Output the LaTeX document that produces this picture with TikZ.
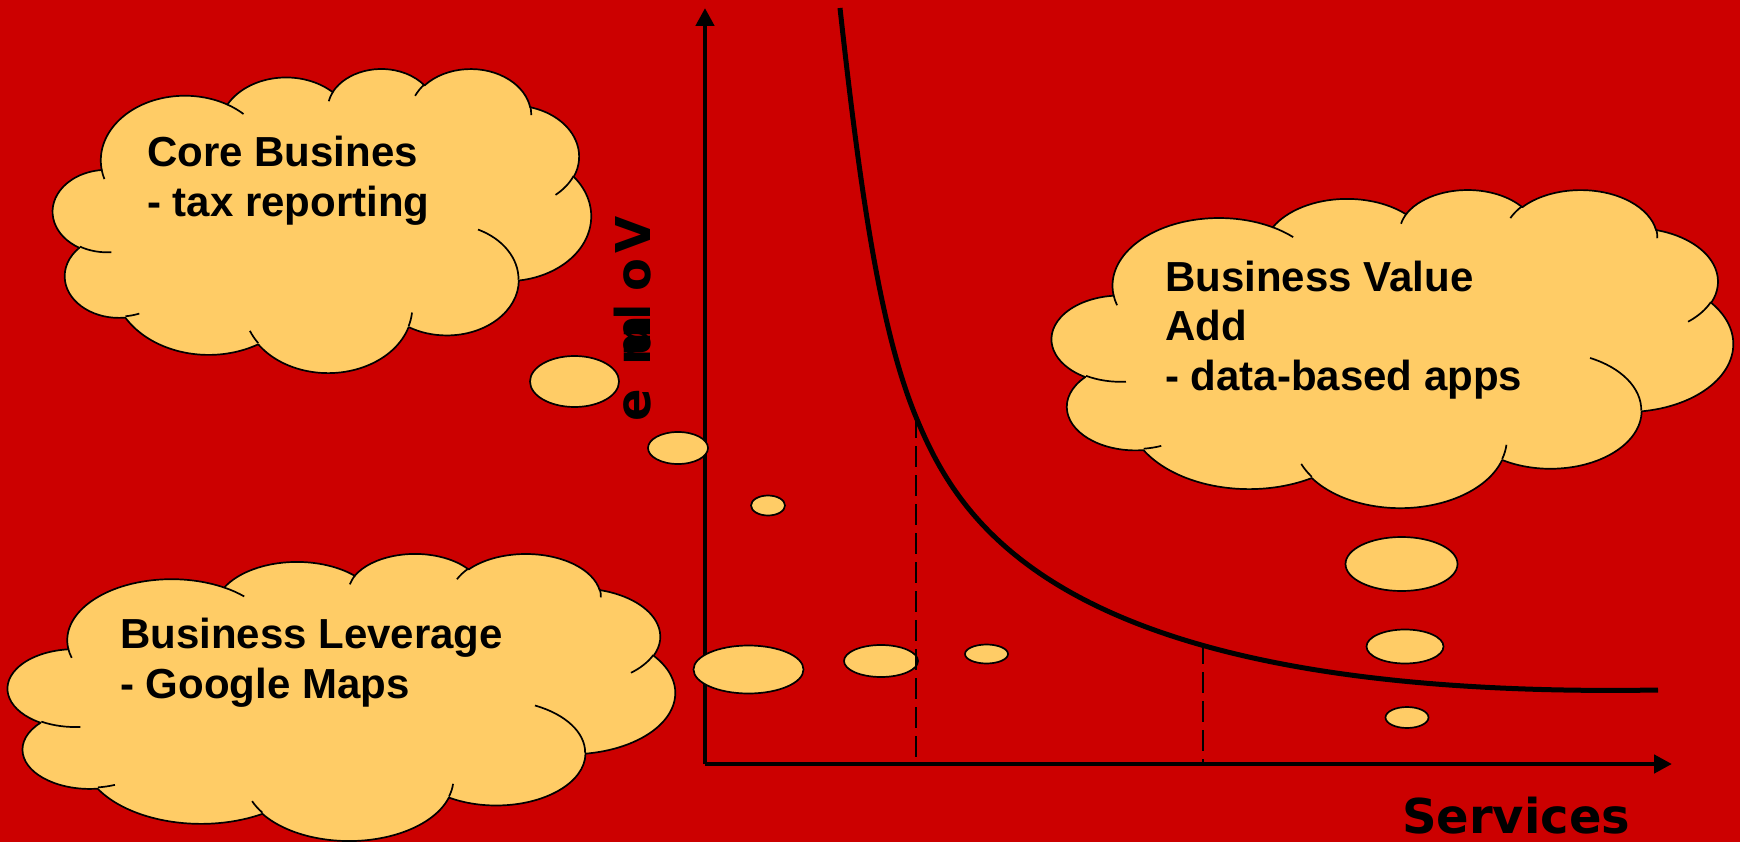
\documentclass[tikz,border=0pt]{standalone}
\usepackage{fontspec}
\usetikzlibrary{arrows.meta,shapes.geometric}
\newfontfamily\cloudfont{Liberation Sans}
\newfontfamily\labelfont{DejaVu Sans}
\definecolor{bgred}{RGB}{204,0,0}
\definecolor{cloudc}{RGB}{255,204,102}

% PowerPoint cloud arcs: wR hR stAng swAng (geometric angles, y down)
\newcommand\defcldarc[5]{%
  \pgfmathsetmacro\cldtA{atan2((#2)*sin(#4),(#3)*cos(#4))}%
  \pgfmathsetmacro\cldtB{atan2((#2)*sin((#4)+(#5)),(#3)*cos((#4)+(#5)))}%
  \pgfmathsetmacro\cldtD{mod(\cldtB-(\cldtA)+720,360)}%
  \expandafter\xdef\csname #1\endcsname{arc[x radius=#2pt, y radius=#3pt, start angle=\cldtA, delta angle=\cldtD]}%
}
\defcldarc{clA}{6.753}{9.19}{-190.48748}{123.78053}
\defcldarc{clB}{5.333}{7.267}{-144.10238}{89.94523}
\defcldarc{clC}{4.365}{5.945}{-145.80792}{99.72302}
\defcldarc{clD}{4.857}{6.595}{-130.98607}{117.24173}
\defcldarc{clE}{5.333}{7.273}{-78.70888}{109.02692}
\defcldarc{clF}{6.775}{9.22}{-46.26725}{130.269}
\defcldarc{clG}{5.785}{7.867}{0.62502}{114.03333}
\defcldarc{clH}{6.752}{9.215}{22.4516}{115.17255}
\defcldarc{clI}{7.72}{10.543}{66.24263}{75.71102}
\defcldarc{clJ}{4.36}{5.918}{-274.94208}{146.73557}
\defcldarc{clK}{4.345}{5.945}{-246.8285}{152.51885}
\defcldarc{crA}{4.345}{5.945}{86.742}{26.4295}
\defcldarc{crB}{4.36}{5.918}{73.61047}{11.44747}
\defcldarc{crC}{6.752}{9.215}{137.62415}{14.0811}
\defcldarc{crD}{6.752}{9.215}{6.45327}{15.99835}
\defcldarc{crE}{5.785}{7.867}{-70.29235}{70.91737}
\defcldarc{crF}{5.333}{7.273}{30.31803}{27.7515}
\defcldarc{crG}{4.857}{6.595}{-13.74433}{14.8589}
\defcldarc{crH}{4.857}{6.595}{-149.18145}{18.19537}
\defcldarc{crI}{4.365}{5.945}{-163.49427}{17.68635}
\defcldarc{crJ}{6.753}{9.19}{-66.70695}{12.31935}
\defcldarc{crK}{6.753}{9.19}{157.65435}{11.85817}

\newcommand\pptcloud[4]{%
  \begin{scope}[shift={(#1,#2)}, xscale=#3/43.2, yscale=#4/43.2]
    \filldraw[cloudline, fill=cloudc] (3.9,14.37) \clA\clB\clC\clD\clE\clF\clG\clH\clI\clJ\clK -- cycle;
    \draw[cloudline] (4.693,26.177) \crA (6.928,34.899) \crB (16.478,39.09) \crC
      (28.827,34.751) \crD (34.129,22.954) \crE (41.798,15.354) \crF
      (38.324,5.426) \crG (29.078,3.952) \crH (22.141,4.72) \crI
      (14,5.192) \crJ (4.127,15.789) \crK;
  \end{scope}}

\begin{document}
\begin{tikzpicture}[x=1pt, y=1pt, yscale=-1,
  cloudline/.style={draw=black, line width=1.7pt, line join=round},
  bubble/.style={ellipse, draw=black, line width=1.7pt, fill=cloudc, inner sep=0pt},
  axisline/.style={line width=4.8pt, -{Triangle[length=18pt, width=18pt]}},
  curveline/.style={line width=5pt},
  guide/.style={line width=2.4pt, dash pattern=on 21pt off 8pt},
  cloudtext/.style={anchor=base west, inner sep=0pt, font=\cloudfont\bfseries\fontsize{42}{50}\selectfont},
  vollet/.style={rotate=90, anchor=base, inner sep=0pt, font=\labelfont\bfseries\fontsize{48}{56}\selectfont},
  axislabel/.style={anchor=base west, inner sep=0pt, text depth=0pt, font=\labelfont\bfseries\fontsize{48}{56}\selectfont}]

\fill[bgred] (0,0) rectangle (1740,842);
\useasboundingbox (0,0) rectangle (1740,842);

% clouds
\pptcloud{53}{68}{538}{304}
\pptcloud{1052}{189}{681}{318}
\pptcloud{8}{553}{667}{287}

\node[cloudtext] (core) at (147,167) {\begin{tabular}[t]{@{}l@{}}Core Busines\\- tax reporting\end{tabular}};
\node[cloudtext] (value) at (1165,291) {\begin{tabular}[t]{@{}l@{}}Business Value\\Add\\- data-based apps\end{tabular}};
\node[cloudtext] (leverage) at (120,648) {\begin{tabular}[t]{@{}l@{}}Business Leverage\\- Google Maps\end{tabular}};

% axes
\coordinate (orig) at (705,764);
\coordinate (ytip) at (705,8);
\coordinate (xtip) at (1672,764);
\draw[axisline] (orig) -- (ytip);
\draw[axisline] (orig) -- (xtip);

% thought bubbles
\node[bubble, minimum width=89pt, minimum height=51pt] (b1) at (574.5,381.5) {};
\node[bubble, minimum width=60pt, minimum height=32pt] (b2) at (678,448) {};
\node[bubble, minimum width=34pt, minimum height=20pt] (b3) at (768,505.5) {};
\node[bubble, minimum width=110pt, minimum height=48pt] (b4) at (748.5,669.5) {};
\node[bubble, minimum width=74pt, minimum height=32pt] (b5) at (881,661) {};
\node[bubble, minimum width=43pt, minimum height=19pt] (b6) at (986.5,654) {};
\node[bubble, minimum width=112pt, minimum height=54pt] (b7) at (1401.5,564) {};
\node[bubble, minimum width=77pt, minimum height=34pt] (b8) at (1405,646.5) {};
\node[bubble, minimum width=43pt, minimum height=21pt] (b9) at (1407,717.5) {};

% dashed guides
\coordinate (d1top) at (916,417);
\coordinate (d1bot) at (916,762);
\coordinate (d2top) at (1203,643);
\coordinate (d2bot) at (1203,762);
\draw[guide] (d1top) -- (d1bot);
\draw[guide] (d2top) -- (d2bot);

% demand curve
\coordinate (ctop) at (840,8);
\coordinate (cend) at (1658,690);
\draw[curveline] (ctop) .. controls (860,190) and (880,330) .. (d1top)
  .. controls (960,523.3) and (1060,700) .. (cend);

% axis labels
\node[vollet] (volV) at (650,234.5) {V};
\node[vollet] (volo) at (650,275) {o};
\node[vollet] (voll) at (650,312.5) {l};
\node[vollet] (volu) at (650,339) {u};
\node[vollet] (volm) at (650,340) {m};
\node[vollet] (vole) at (650,405) {e};
\node[axislabel] (services) at (1402,833) {Services};
\end{tikzpicture}
\end{document}
